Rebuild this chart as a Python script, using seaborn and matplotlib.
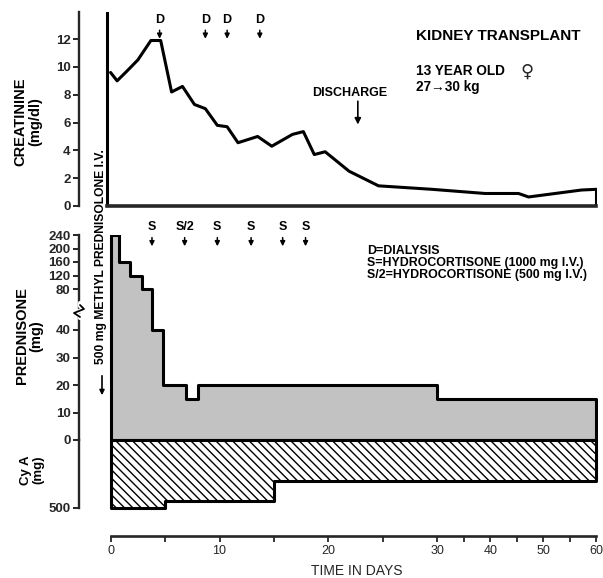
import numpy as np
import matplotlib
matplotlib.use("Agg")
import matplotlib.pyplot as plt
import seaborn as sns

# creatinine (mg/dl) by day
cr_days = [0, 0.6, 1.5, 2.5, 3.7, 4.6, 5.6, 6.6, 7.7, 8.7, 9.8, 10.7, 11.7, 13.5,
           14.8, 16.7, 17.7, 18.7, 19.7, 21.9, 24.6, 29.5, 39, 45.3, 47.2, 52.2, 57.2, 60]
cr_values = [9.6, 9.0, 9.7, 10.5, 11.9, 11.9, 8.2, 8.6, 7.3, 7.0, 5.8, 5.7, 4.55, 5.0,
             4.3, 5.15, 5.35, 3.7, 3.9, 2.5, 1.45, 1.2, 0.9, 0.9, 0.65, 0.9, 1.15, 1.2]

# prednisone (mg), step changes
pred_days = [0, 0.8, 1.8, 2.9, 3.8, 4.8, 6.9, 8.0, 30, 60]
pred_doses = [240, 160, 120, 80, 40, 20, 15, 20, 15, 15]
pred_ticks = [0, 10, 20, 30, 40, 80, 120, 160, 200, 240]

# cyclosporin A (mg), step changes
cya_days = [0, 5, 15, 60]
cya_doses = [500, 450, 300, 300]

dialysis_days = [4.5, 8.7, 10.7, 13.7]
hydro_days = [3.8, 6.8, 9.8, 12.9, 15.8, 17.9]
hydro_labels = ["S", "S/2", "S", "S", "S", "S"]
discharge_day = 22.7

W, H = 603, 578


def fx(x):
    return x / W


def fy(y):
    return 1 - y / H


# time axis: days 0-30 at full width, 30-60 compressed
def day_fwd(t):
    t = np.asarray(t, float)
    return np.where(t <= 30, t, 30 + (t - 30) * 0.487)


def day_inv(u):
    u = np.asarray(u, float)
    return np.where(u <= 30, u, 30 + (u - 30) / 0.487)


# prednisone axis is broken between 40 and 80
def pred_fwd(v):
    v = np.asarray(v, float)
    return np.where(v <= 40, v * 2.75, np.where(v <= 80, 110 + (v - 40) * 1.025, 151 + (v - 80) * 0.3375))


def pred_inv(y):
    y = np.asarray(y, float)
    return np.where(y <= 110, y / 2.75, np.where(y <= 151, 40 + (y - 110) / 1.025, 80 + (y - 151) / 0.3375))


sns.set_style("ticks")
plt.rcParams['font.family'] = ['Liberation Sans', 'DejaVu Sans']

fig = plt.figure(figsize=(W / 100, H / 100), dpi=100)
left, right = 79, 597
ax1 = fig.add_axes([fx(left), fy(206), fx(right - left), (206 - 12) / H])
ax2 = fig.add_axes([fx(left), fy(440), fx(right - left), (440 - 235) / H])
ax3 = fig.add_axes([fx(left), fy(508), fx(right - left), (508 - 440) / H])

for ax in (ax1, ax2, ax3):
    ax.set_xscale('function', functions=(day_fwd, day_inv))
    ax.set_xlim(-2.9, 60.1)
    ax.patch.set_alpha(0)
    for s in ('top', 'right'):
        ax.spines[s].set_visible(False)
    ax.spines['left'].set_linewidth(1.7)
    ax.tick_params(axis='y', direction='out', length=4, width=1.4, pad=2, labelsize=9.5)

lw = 2.2

# creatinine
sns.lineplot(x=cr_days, y=cr_values, ax=ax1, color='black', lw=lw)
ax1.vlines(cr_days[-1], 0, cr_values[-1], color='black', lw=lw)
ax1.axvline(-0.3, color='black', lw=lw)
ax1.set_ylim(0, 13.95)
ax1.set_yticks(range(0, 13, 2))
ax1.spines['bottom'].set_bounds(-0.3, 60)
ax1.spines['bottom'].set_linewidth(2.6)
ax1.tick_params(axis='x', length=0, labelbottom=False)
ax1.set_xlabel('')
ax1.set_ylabel('')

# prednisone
ax2.set_yscale('function', functions=(pred_fwd, pred_inv))
ax2.fill_between(pred_days, 0, pred_doses, step='post', facecolor='#c2c2c2',
                 edgecolor='black', lw=lw)
ax2.set_ylim(0, 240)
ax2.set_yticks(pred_ticks)
ax2.spines['bottom'].set_visible(False)
ax2.tick_params(axis='x', length=0, labelbottom=False)

# cyclosporin A
ax3.fill_between(cya_days, 0, cya_doses, step='post', facecolor='white',
                 edgecolor='black', hatch='\\\\\\\\', lw=lw, clip_on=False)
ax3.set_ylim(500, 0)
ax3.set_yticks([500])
ax3.spines['bottom'].set_position(('outward', 20))
ax3.spines['bottom'].set_bounds(0, 60)
ax3.spines['bottom'].set_linewidth(1.9)
ax3.set_xticks(range(0, 61, 10))
ax3.set_xticks(range(5, 60, 10), minor=True)
ax3.tick_params(axis='x', which='both', direction='out', length=4, width=1.3, pad=3, labelsize=9)
ax3.tick_params(axis='y', length=4, width=1.4)

for ax in (ax1, ax2, ax3):
    for lab in ax.get_yticklabels():
        lab.set_fontweight('bold')

# broken axis mark on prednisone spine
fig.lines.append(plt.Line2D([fx(80), fx(80), fx(84), fx(74), fx(80), fx(80)],
                            [fy(303), fy(306), fy(309), fy(313), fy(316), fy(318)],
                            transform=fig.transFigure, color='white', lw=3))
fig.lines.append(plt.Line2D([fx(80), fx(84), fx(74), fx(80)],
                            [fy(305), fy(309), fy(313), fy(317)],
                            transform=fig.transFigure, color='black', lw=1.3))

arrow = dict(arrowstyle='-|>', color='black', lw=1.1, mutation_scale=7, shrinkA=1, shrinkB=0)
bold = dict(fontweight='bold', color='black')

for d in dialysis_days:
    ax1.annotate('D', xy=(d, 0.862), xycoords=('data', 'axes fraction'),
                 xytext=(d, 0.93), textcoords=('data', 'axes fraction'),
                 ha='center', va='bottom', fontsize=9, arrowprops=arrow,
                 annotation_clip=False, **bold)

for d, lab in zip(hydro_days, hydro_labels):
    ax2.annotate(lab, xy=(d, 0.945), xycoords=('data', 'axes fraction'),
                 xytext=(d, 1.01), textcoords=('data', 'axes fraction'),
                 ha='center', va='bottom', fontsize=9, arrowprops=arrow,
                 annotation_clip=False, **bold)

ax1.annotate('', xy=(discharge_day, 0.42), xycoords=('data', 'axes fraction'),
             xytext=(discharge_day, 0.54), textcoords=('data', 'axes fraction'),
             arrowprops=dict(arrowstyle='-|>', color='black', lw=1.2, mutation_scale=9,
                             shrinkA=0, shrinkB=0))
fig.text(fx(350), fy(93), 'DISCHARGE', ha='center', va='center', fontsize=9, **bold)

# titles and notes
fig.text(fx(416), fy(36), 'KIDNEY TRANSPLANT', ha='left', va='center', fontsize=11, **bold)
fig.text(fx(416), fy(71), '13 YEAR OLD', ha='left', va='center', fontsize=9.8, **bold)
fig.text(fx(527), fy(72), '\u2640', ha='center', va='center', fontsize=13,
         family=['DejaVu Sans'], fontweight='bold')
fig.text(fx(416), fy(87), '27\u219230 kg', ha='left', va='center', fontsize=9.8,
         family=['Liberation Sans', 'DejaVu Sans'], **bold)
fig.text(fx(367), fy(263), 'D=DIALYSIS\nS=HYDROCORTISONE (1000 mg I.V.)\nS/2=HYDROCORTISONE (500 mg I.V.)',
         ha='left', va='center', fontsize=8.9, linespacing=0.98, **bold)

fig.text(fx(101), fy(257), '500 mg METHYL PREDNISOLONE I.V.', rotation=90,
         ha='center', va='center', fontsize=8.7, **bold)
fig.add_artist(matplotlib.patches.FancyArrowPatch((fx(102), fy(373)), (fx(102), fy(398)),
                                                  transform=fig.transFigure, arrowstyle='-|>',
                                                  mutation_scale=7, color='black', lw=1.2))

# axis labels
fig.text(fx(28), fy(122), 'CREATININE\n(mg/dl)', rotation=90, ha='center', va='center',
         fontsize=10.5, linespacing=1.05, multialignment='center', **bold)
fig.text(fx(29), fy(336), 'PREDNISONE\n(mg)', rotation=90, ha='center', va='center',
         fontsize=10.5, linespacing=1.05, multialignment='center', **bold)
fig.text(fx(32), fy(470), 'Cy A\n(mg)', rotation=90, ha='center', va='center',
         fontsize=9.5, linespacing=1.05, multialignment='center', **bold)
fig.text(fx(357), fy(571), 'TIME IN DAYS', ha='center', va='center', fontsize=10)

fig.savefig('out.png', dpi=100, facecolor='white')
